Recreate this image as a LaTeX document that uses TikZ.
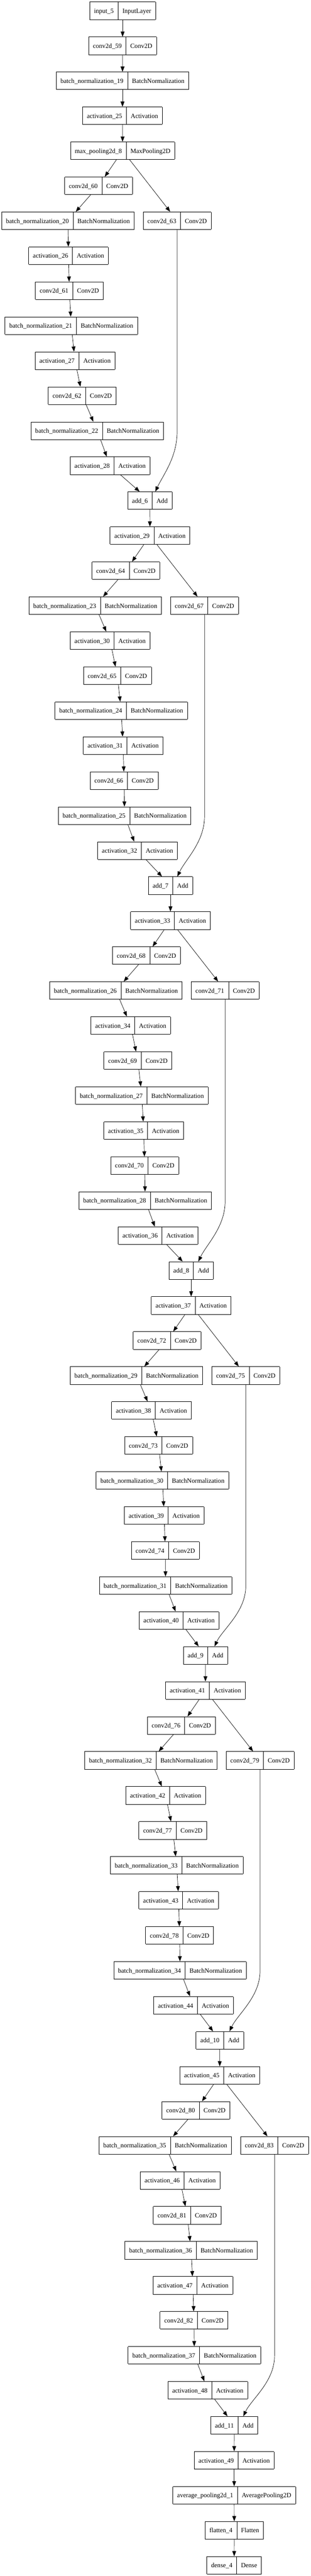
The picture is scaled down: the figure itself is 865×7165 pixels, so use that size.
\documentclass[tikz,border=0pt]{standalone}
\usepackage{fontspec}
\setmainfont{Liberation Serif}
\usetikzlibrary{arrows.meta,calc}
\setlength{\arrayrulewidth}{0.75pt}
\setlength{\tabcolsep}{9pt}
\newcommand{\lyr}[2]{\begin{tabular}{|c|c|}\hline\rule[-13pt]{0pt}{36pt}#1&#2\\\hline\end{tabular}}
\tikzset{every picture/.style={line width=0.75pt}}
\tikzset{
  layer/.style={inner sep=0pt, outer sep=0pt, font=\fontsize{13.5pt}{16pt}\selectfont},
  flow/.style={-{Triangle[length=10.8pt,width=8pt]}}
}
\begin{document}
\begin{tikzpicture}[x=0.75pt,y=0.75pt,yscale=-1,xscale=1]
\useasboundingbox (0,0) rectangle (865,7165);
%Stem
\draw (341.2,29.9) node [layer] (in5) {\lyr{input\_5}{InputLayer}};
\draw (341.2,127.2) node [layer] (c59) {\lyr{conv2d\_59}{Conv2D}};
\draw (340.9,224.6) node [layer] (bn19) {\lyr{batch\_normalization\_19}{BatchNormalization}};
\draw (340.9,321.9) node [layer] (a25) {\lyr{activation\_25}{Activation}};
\draw (341.2,419.2) node [layer] (mp8) {\lyr{max\_pooling2d\_8}{MaxPooling2D}};
%Block 1
\draw (274.4,516.6) node [layer] (c60) {\lyr{conv2d\_60}{Conv2D}};
\draw (189,613.9) node [layer] (bn20) {\lyr{batch\_normalization\_20}{BatchNormalization}};
\draw (493,613.9) node [layer] (c63) {\lyr{conv2d\_63}{Conv2D}};
\draw (190.6,711.2) node [layer] (a26) {\lyr{activation\_26}{Activation}};
\draw (193,808.5) node [layer] (c61) {\lyr{conv2d\_61}{Conv2D}};
\draw (198.3,905.9) node [layer] (bn21) {\lyr{batch\_normalization\_21}{BatchNormalization}};
\draw (208.8,1003.2) node [layer] (a27) {\lyr{activation\_27}{Activation}};
\draw (228.9,1100.5) node [layer] (c62) {\lyr{conv2d\_62}{Conv2D}};
\draw (270.6,1197.9) node [layer] (bn22) {\lyr{batch\_normalization\_22}{BatchNormalization}};
\draw (306.4,1295.2) node [layer] (a28) {\lyr{activation\_28}{Activation}};
\draw (417,1392.5) node [layer] (add6) {\lyr{add\_6}{Add}};
\draw (417.3,1489.9) node [layer] (a29) {\lyr{activation\_29}{Activation}};
%Block 2
\draw (350.3,1587.2) node [layer] (c64) {\lyr{conv2d\_64}{Conv2D}};
\draw (265,1684.5) node [layer] (bn23) {\lyr{batch\_normalization\_23}{BatchNormalization}};
\draw (569.2,1684.5) node [layer] (c67) {\lyr{conv2d\_67}{Conv2D}};
\draw (306.4,1781.8) node [layer] (a30) {\lyr{activation\_30}{Activation}};
\draw (326.6,1879.2) node [layer] (c65) {\lyr{conv2d\_65}{Conv2D}};
\draw (337.3,1976.5) node [layer] (bn24) {\lyr{batch\_normalization\_24}{BatchNormalization}};
\draw (342.6,2073.8) node [layer] (a31) {\lyr{activation\_31}{Activation}};
\draw (345.3,2171.2) node [layer] (c66) {\lyr{conv2d\_66}{Conv2D}};
\draw (346.7,2268.5) node [layer] (bn25) {\lyr{batch\_normalization\_25}{BatchNormalization}};
\draw (382.6,2365.8) node [layer] (a32) {\lyr{activation\_32}{Activation}};
\draw (474.4,2463.2) node [layer] (add7) {\lyr{add\_7}{Add}};
\draw (474.4,2560.5) node [layer] (a33) {\lyr{activation\_33}{Activation}};
%Block 3
\draw (407.6,2657.8) node [layer] (c68) {\lyr{conv2d\_68}{Conv2D}};
\draw (322.4,2755.1) node [layer] (bn26) {\lyr{batch\_normalization\_26}{BatchNormalization}};
\draw (626.6,2755.1) node [layer] (c71) {\lyr{conv2d\_71}{Conv2D}};
\draw (363.8,2852.5) node [layer] (a34) {\lyr{activation\_34}{Activation}};
\draw (383.7,2949.8) node [layer] (c69) {\lyr{conv2d\_69}{Conv2D}};
\draw (394.7,3047.1) node [layer] (bn27) {\lyr{batch\_normalization\_27}{BatchNormalization}};
\draw (399.9,3144.5) node [layer] (a35) {\lyr{activation\_35}{Activation}};
\draw (402.7,3241.8) node [layer] (c70) {\lyr{conv2d\_70}{Conv2D}};
\draw (404,3339.1) node [layer] (bn28) {\lyr{batch\_normalization\_28}{BatchNormalization}};
\draw (439.9,3436.5) node [layer] (a36) {\lyr{activation\_36}{Activation}};
\draw (532,3533.8) node [layer] (add8) {\lyr{add\_8}{Add}};
\draw (532,3631.1) node [layer] (a37) {\lyr{activation\_37}{Activation}};
%Block 4
\draw (465,3728.4) node [layer] (c72) {\lyr{conv2d\_72}{Conv2D}};
\draw (379.8,3825.8) node [layer] (bn29) {\lyr{batch\_normalization\_29}{BatchNormalization}};
\draw (684,3825.8) node [layer] (c75) {\lyr{conv2d\_75}{Conv2D}};
\draw (421.4,3923.1) node [layer] (a38) {\lyr{activation\_38}{Activation}};
\draw (441.3,4020.4) node [layer] (c73) {\lyr{conv2d\_73}{Conv2D}};
\draw (452,4117.8) node [layer] (bn30) {\lyr{batch\_normalization\_30}{BatchNormalization}};
\draw (457,4215.1) node [layer] (a39) {\lyr{activation\_39}{Activation}};
\draw (460,4312.4) node [layer] (c74) {\lyr{conv2d\_74}{Conv2D}};
\draw (460.9,4409.8) node [layer] (bn31) {\lyr{batch\_normalization\_31}{BatchNormalization}};
\draw (498.4,4507.1) node [layer] (a40) {\lyr{activation\_40}{Activation}};
\draw (571.8,4604.4) node [layer] (add9) {\lyr{add\_9}{Add}};
\draw (571.7,4701.7) node [layer] (a41) {\lyr{activation\_41}{Activation}};
%Block 5
\draw (504.7,4799.1) node [layer] (c76) {\lyr{conv2d\_76}{Conv2D}};
\draw (420,4896.4) node [layer] (bn32) {\lyr{batch\_normalization\_32}{BatchNormalization}};
\draw (723.7,4896.4) node [layer] (c79) {\lyr{conv2d\_79}{Conv2D}};
\draw (460.9,4993.7) node [layer] (a42) {\lyr{activation\_42}{Activation}};
\draw (481,5091.1) node [layer] (c77) {\lyr{conv2d\_77}{Conv2D}};
\draw (491.8,5188.4) node [layer] (bn33) {\lyr{batch\_normalization\_33}{BatchNormalization}};
\draw (497.3,5285.7) node [layer] (a43) {\lyr{activation\_43}{Activation}};
\draw (499.8,5383.1) node [layer] (c78) {\lyr{conv2d\_78}{Conv2D}};
\draw (501.1,5480.4) node [layer] (bn34) {\lyr{batch\_normalization\_34}{BatchNormalization}};
\draw (538.6,5577.7) node [layer] (a44) {\lyr{activation\_44}{Activation}};
\draw (611.7,5675) node [layer] (add10) {\lyr{add\_10}{Add}};
\draw (611.5,5772.4) node [layer] (a45) {\lyr{activation\_45}{Activation}};
%Block 6
\draw (545.2,5869.7) node [layer] (c80) {\lyr{conv2d\_80}{Conv2D}};
\draw (459.8,5967) node [layer] (bn35) {\lyr{batch\_normalization\_35}{BatchNormalization}};
\draw (764,5967) node [layer] (c83) {\lyr{conv2d\_83}{Conv2D}};
\draw (501.4,6064.4) node [layer] (a46) {\lyr{activation\_46}{Activation}};
\draw (521,6161.7) node [layer] (c81) {\lyr{conv2d\_81}{Conv2D}};
\draw (531.8,6259) node [layer] (bn36) {\lyr{batch\_normalization\_36}{BatchNormalization}};
\draw (536.9,6356.4) node [layer] (a47) {\lyr{activation\_47}{Activation}};
\draw (539.8,6453.7) node [layer] (c82) {\lyr{conv2d\_82}{Conv2D}};
\draw (540.9,6551) node [layer] (bn37) {\lyr{batch\_normalization\_37}{BatchNormalization}};
\draw (578.4,6648.3) node [layer] (a48) {\lyr{activation\_48}{Activation}};
\draw (652,6745.7) node [layer] (add11) {\lyr{add\_11}{Add}};
%Head
\draw (651.7,6843) node [layer] (a49) {\lyr{activation\_49}{Activation}};
\draw (651.7,6940.3) node [layer] (ap1) {\lyr{average\_pooling2d\_1}{AveragePooling2D}};
\draw (652,7037.7) node [layer] (fl4) {\lyr{flatten\_4}{Flatten}};
\draw (651.7,7135) node [layer] (d4) {\lyr{dense\_4}{Dense}};
%Straight Lines
\draw [flow] (in5) -- (c59);
\draw [flow] (c59) -- (bn19);
\draw [flow] (bn19) -- (a25);
\draw [flow] (a25) -- (mp8);
\draw [flow] (mp8) -- (c60);
\draw [flow] (mp8) -- (c63);
\draw [flow] (c60) -- (bn20);
\draw [flow] (bn20) -- (a26);
\draw [flow] (a26) -- (c61);
\draw [flow] (c61) -- (bn21);
\draw [flow] (bn21) -- (a27);
\draw [flow] (a27) -- (c62);
\draw [flow] (c62) -- (bn22);
\draw [flow] (bn22) -- (a28);
\draw [flow] (a28) -- (add6);
\draw [flow] (add6) -- (a29);
\draw [flow] (a29) -- (c64);
\draw [flow] (a29) -- (c67);
\draw [flow] (c64) -- (bn23);
\draw [flow] (bn23) -- (a30);
\draw [flow] (a30) -- (c65);
\draw [flow] (c65) -- (bn24);
\draw [flow] (bn24) -- (a31);
\draw [flow] (a31) -- (c66);
\draw [flow] (c66) -- (bn25);
\draw [flow] (bn25) -- (a32);
\draw [flow] (a32) -- (add7);
\draw [flow] (add7) -- (a33);
\draw [flow] (a33) -- (c68);
\draw [flow] (a33) -- (c71);
\draw [flow] (c68) -- (bn26);
\draw [flow] (bn26) -- (a34);
\draw [flow] (a34) -- (c69);
\draw [flow] (c69) -- (bn27);
\draw [flow] (bn27) -- (a35);
\draw [flow] (a35) -- (c70);
\draw [flow] (c70) -- (bn28);
\draw [flow] (bn28) -- (a36);
\draw [flow] (a36) -- (add8);
\draw [flow] (add8) -- (a37);
\draw [flow] (a37) -- (c72);
\draw [flow] (a37) -- (c75);
\draw [flow] (c72) -- (bn29);
\draw [flow] (bn29) -- (a38);
\draw [flow] (a38) -- (c73);
\draw [flow] (c73) -- (bn30);
\draw [flow] (bn30) -- (a39);
\draw [flow] (a39) -- (c74);
\draw [flow] (c74) -- (bn31);
\draw [flow] (bn31) -- (a40);
\draw [flow] (a40) -- (add9);
\draw [flow] (add9) -- (a41);
\draw [flow] (a41) -- (c76);
\draw [flow] (a41) -- (c79);
\draw [flow] (c76) -- (bn32);
\draw [flow] (bn32) -- (a42);
\draw [flow] (a42) -- (c77);
\draw [flow] (c77) -- (bn33);
\draw [flow] (bn33) -- (a43);
\draw [flow] (a43) -- (c78);
\draw [flow] (c78) -- (bn34);
\draw [flow] (bn34) -- (a44);
\draw [flow] (a44) -- (add10);
\draw [flow] (add10) -- (a45);
\draw [flow] (a45) -- (c80);
\draw [flow] (a45) -- (c83);
\draw [flow] (c80) -- (bn35);
\draw [flow] (bn35) -- (a46);
\draw [flow] (a46) -- (c81);
\draw [flow] (c81) -- (bn36);
\draw [flow] (bn36) -- (a47);
\draw [flow] (a47) -- (c82);
\draw [flow] (c82) -- (bn37);
\draw [flow] (bn37) -- (a48);
\draw [flow] (a48) -- (add11);
\draw [flow] (add11) -- (a49);
\draw [flow] (a49) -- (ap1);
\draw [flow] (ap1) -- (fl4);
\draw [flow] (fl4) -- (d4);
%Curve Lines
\draw [flow] (c63) -- ($(add6.north -| c63)+(0,-168)$) .. controls +(0,72) and ($(add6.north)+(38,-48)$) .. ($(add6.north)+(15,0)$);
\draw [flow] (c67) -- ($(add7.north -| c67)+(0,-168)$) .. controls +(0,72) and ($(add7.north)+(42,-48)$) .. ($(add7.north)+(19,0)$);
\draw [flow] (c71) -- ($(add8.north -| c71)+(0,-168)$) .. controls +(0,72) and ($(add8.north)+(43,-48)$) .. ($(add8.north)+(20,0)$);
\draw [flow] (c75) -- ($(add9.north -| c75)+(0,-168)$) .. controls +(0,72) and ($(add9.north)+(48,-48)$) .. ($(add9.north)+(25,0)$);
\draw [flow] (c79) -- ($(add10.north -| c79)+(0,-168)$) .. controls +(0,72) and ($(add10.north)+(50,-48)$) .. ($(add10.north)+(27,0)$);
\draw [flow] (c83) -- ($(add11.north -| c83)+(0,-168)$) .. controls +(0,72) and ($(add11.north)+(48,-48)$) .. ($(add11.north)+(25,0)$);
\end{tikzpicture}
\end{document}
